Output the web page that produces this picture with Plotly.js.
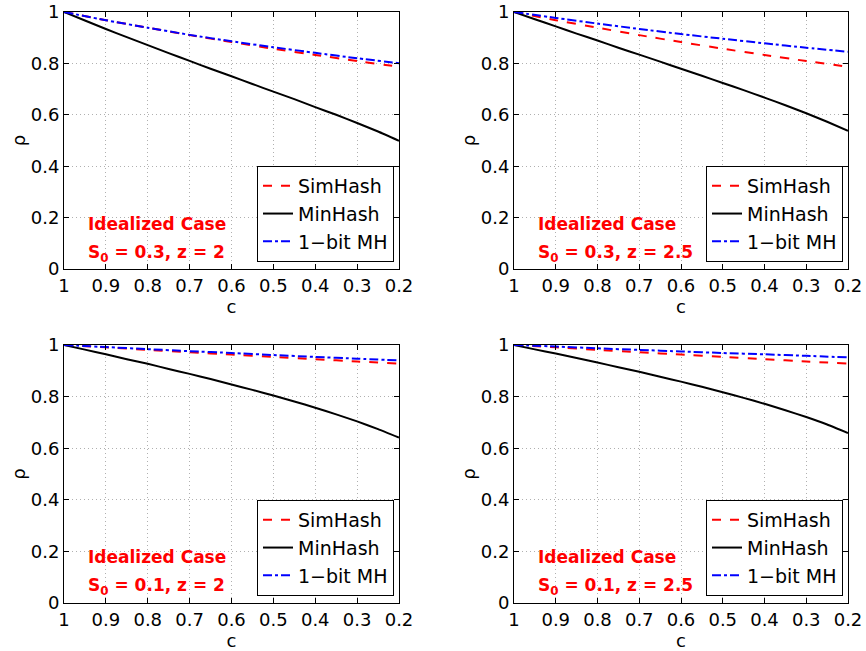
<!DOCTYPE html>
<html>
<head>
<meta charset="utf-8">
<script src="https://cdn.plot.ly/plotly-3.0.1.min.js"></script>
<style>html,body{margin:0;padding:0;background:#fff;}</style>
</head>
<body>
<div id="chart" style="width:866px;height:651px;"></div>
<script>
// x values (c), reversed axis
const cVals = [1, 0.9, 0.8, 0.7, 0.6, 0.5, 0.4, 0.3, 0.2];
const cFine = [1, 0.95, 0.9, 0.85, 0.8, 0.75, 0.7, 0.65, 0.6, 0.55, 0.5, 0.45, 0.4, 0.35, 0.3, 0.25, 0.2];
const xTickVals = [1, 0.9, 0.8, 0.7, 0.6, 0.5, 0.4, 0.3, 0.2];
const xTickText = ["1", "0.9", "0.8", "0.7", "0.6", "0.5", "0.4", "0.3", "0.2"];
const yTickVals = [0, 0.2, 0.4, 0.6, 0.8, 1];
const yTickText = ["0", "0.2", "0.4", "0.6", "0.8", "1"];

// SimHash (same for both z), sampled at cVals
const simHash_S03 = [1, 0.968, 0.939, 0.910, 0.883, 0.857, 0.833, 0.809, 0.787];
const simHash_S01 = [1, 0.991, 0.981, 0.972, 0.963, 0.954, 0.945, 0.936, 0.928];
// 1-bit MH, sampled at cVals
const oneBit_S03_z2 = [1, 0.968, 0.939, 0.911, 0.886, 0.863, 0.841, 0.820, 0.801];
const oneBit_S03_z25 = [1, 0.977, 0.955, 0.934, 0.914, 0.896, 0.878, 0.861, 0.845];
const oneBit_S01_z2 = [1, 0.992, 0.984, 0.976, 0.969, 0.961, 0.954, 0.947, 0.940];
const oneBit_S01_z25 = [1, 0.994, 0.987, 0.981, 0.975, 0.969, 0.964, 0.958, 0.952];
// MinHash, sampled at cFine
const minHash_S03_z2 = [1, 0.967, 0.934, 0.902, 0.871, 0.840, 0.810, 0.779, 0.750, 0.720, 0.690, 0.661, 0.630, 0.600, 0.568, 0.535, 0.499];
const minHash_S03_z25 = [1, 0.972, 0.944, 0.916, 0.889, 0.861, 0.834, 0.807, 0.779, 0.752, 0.724, 0.696, 0.667, 0.637, 0.606, 0.573, 0.538];
const minHash_S01_z2 = [1, 0.982, 0.964, 0.945, 0.927, 0.907, 0.888, 0.868, 0.847, 0.826, 0.804, 0.781, 0.757, 0.731, 0.704, 0.674, 0.641];
const minHash_S01_z25 = [1, 0.983, 0.967, 0.950, 0.932, 0.914, 0.896, 0.877, 0.858, 0.838, 0.817, 0.795, 0.772, 0.747, 0.721, 0.692, 0.659];

const seriesNames = ["SimHash", "MinHash", "1\u2212bit MH"];
const panelLabels = [
  ["Idealized Case", "S<sub>0</sub> = 0.3, z = 2"],
  ["Idealized Case", "S<sub>0</sub> = 0.3, z = 2.5"],
  ["Idealized Case", "S<sub>0</sub> = 0.1, z = 2"],
  ["Idealized Case", "S<sub>0</sub> = 0.1, z = 2.5"]
];

const panels = [
  [[cVals, simHash_S03], [cFine, minHash_S03_z2], [cVals, oneBit_S03_z2]],
  [[cVals, simHash_S03], [cFine, minHash_S03_z25], [cVals, oneBit_S03_z25]],
  [[cVals, simHash_S01], [cFine, minHash_S01_z2], [cVals, oneBit_S01_z2]],
  [[cVals, simHash_S01], [cFine, minHash_S01_z25], [cVals, oneBit_S01_z25]]
];

const W = 866, H = 651;
// plot area pixel boxes [x0, x1, yTop, yBottom]
const boxes = [
  [64, 399, 12, 269],
  [514, 848, 12, 269],
  [64, 399, 345, 603],
  [514, 848, 345, 603]
];
const styles = [
  {color: "#ff0000", dash: "dash"},
  {color: "#000000", dash: "solid"},
  {color: "#0000ff", dash: "dashdot"}
];
const FONT = "DejaVu Sans, Liberation Sans, Arial, sans-serif";

const traces = [];
const layout = {
  width: W, height: H,
  margin: {l: 0, r: 0, t: 0, b: 0},
  paper_bgcolor: "#fff", plot_bgcolor: "#fff",
  font: {family: FONT, size: 18, color: "#000"},
  showlegend: true,
  annotations: []
};

panels.forEach((series, p) => {
  const idx = p + 1;
  const xa = "x" + (idx === 1 ? "" : idx);
  const ya = "y" + (idx === 1 ? "" : idx);
  const legName = idx === 1 ? "legend" : "legend" + idx;
  series.forEach((xy, s) => {
    traces.push({
      x: xy[0], y: xy[1], type: "scatter", mode: "lines",
      name: seriesNames[s],
      xaxis: xa, yaxis: ya,
      legend: legName,
      line: {color: styles[s].color, dash: styles[s].dash, width: 2, shape: "spline", smoothing: 0.5}
    });
  });
  const b = boxes[p];
  const axX = {
    domain: [b[0] / W, b[1] / W],
    range: [1, 0.2], autorange: false,
    tickmode: "array", tickvals: xTickVals, ticktext: xTickText,
    ticks: "inside", ticklen: 5, tickcolor: "#000",
    showline: true, linecolor: "#000", linewidth: 1, mirror: "ticks",
    showgrid: true, gridcolor: "#b0b0b0", griddash: "1px,3px", gridwidth: 1,
    zeroline: false,
    tickfont: {family: FONT, size: 18, color: "#000"},
    title: {text: "c", font: {family: FONT, size: 18}, standoff: 0},
    anchor: ya
  };
  const axY = {
    domain: [1 - b[3] / H, 1 - b[2] / H],
    range: [0, 1], autorange: false,
    tickmode: "array", tickvals: yTickVals, ticktext: yTickText,
    ticks: "inside", ticklen: 5, tickcolor: "#000",
    showline: true, linecolor: "#000", linewidth: 1, mirror: "ticks",
    showgrid: true, gridcolor: "#b0b0b0", griddash: "1px,3px", gridwidth: 1,
    zeroline: false,
    tickfont: {family: FONT, size: 18, color: "#000"},
    title: {text: "\u03c1", font: {family: FONT, size: 18}, standoff: 0},
    anchor: xa
  };
  layout["xaxis" + (idx === 1 ? "" : idx)] = axX;
  layout["yaxis" + (idx === 1 ? "" : idx)] = axY;

  layout[legName] = {
    x: (b[1] - 5) / W, xanchor: "right",
    y: 1 - (b[3] - 7) / H, yanchor: "bottom",
    bgcolor: "#fff", bordercolor: "#000", borderwidth: 1,
    font: {family: FONT, size: 19, color: "#000"},
    tracegroupgap: 0,
    itemwidth: 30
  };

  layout.annotations.push({
    xref: "paper", yref: "paper",
    x: (b[0] + 22) / W, y: 1 - (b[2] + 212) / H,
    xanchor: "left", yanchor: "middle", showarrow: false,
    text: "<b>" + panelLabels[p][0] + "</b>",
    font: {family: FONT, size: 17, color: "#ff0000"}
  });
  layout.annotations.push({
    xref: "paper", yref: "paper",
    x: (b[0] + 22) / W, y: 1 - (b[2] + 241) / H,
    xanchor: "left", yanchor: "middle", showarrow: false,
    text: "<b>" + panelLabels[p][1] + "</b>",
    font: {family: FONT, size: 17, color: "#ff0000"}
  });
});

Plotly.newPlot("chart", traces, layout, {staticPlot: true});
</script>
</body>
</html>
